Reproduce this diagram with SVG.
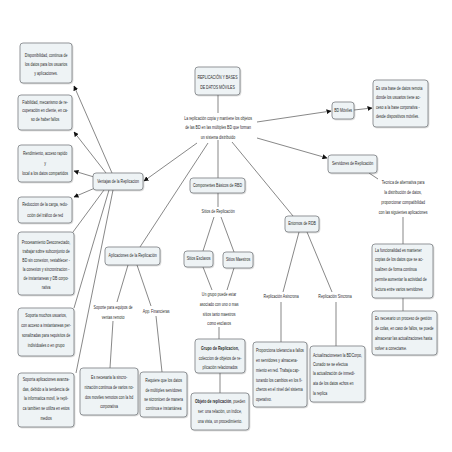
<svg xmlns="http://www.w3.org/2000/svg" width="452" height="452" viewBox="0 0 452 452">
<style>
.bg{fill:#ffffff}
.box rect{fill:#eef3f5;stroke:#6a6f72;stroke-width:0.7}
text{font-family:"Liberation Sans",Arial,sans-serif;font-size:5.1px;fill:#2a2a2a;transform-box:fill-box;transform-origin:50% 50%;transform:scaleX(0.7)}
.m{text-anchor:middle}
.s{text-anchor:start;transform-origin:0% 50%}
.b{font-weight:bold}
#connectors line{stroke:#555;stroke-width:0.7;fill:none}
#connectors line.a{marker-end:url(#arr)}
</style>
<defs>
<marker id="arr" markerWidth="5" markerHeight="5" refX="4.5" refY="2.5" orient="auto" markerUnits="userSpaceOnUse">
<path d="M0,0 L5,2.5 L0,5 z" fill="#111"/>
</marker>
<filter id="sh" x="-10%" y="-10%" width="130%" height="130%">
<feDropShadow dx="0.7" dy="0.7" stdDeviation="0.5" flood-color="#000" flood-opacity="0.22"/>
</filter>
</defs>
<rect class="bg" x="0" y="0" width="452" height="452"/>

<g id="connectors">
<line x1="218" y1="95" x2="218" y2="113"/>
<line class="a" x1="257" y1="122" x2="331" y2="111"/>
<line class="a" x1="354" y1="110" x2="372" y2="108"/>
<line class="a" x1="257" y1="138" x2="327" y2="158"/>
<line x1="369" y1="173" x2="378" y2="179"/>
<line x1="403" y1="217" x2="403" y2="244"/>
<line x1="403" y1="298" x2="403" y2="311"/>
<line x1="218" y1="140" x2="218" y2="178"/>
<line x1="218" y1="193" x2="218" y2="207"/>
<line x1="214" y1="217" x2="203" y2="251"/>
<line x1="221" y1="217" x2="234" y2="252"/>
<line x1="203" y1="267" x2="212" y2="290"/>
<line x1="234" y1="268" x2="227" y2="290"/>
<line x1="219" y1="327" x2="219" y2="339"/>
<line x1="220" y1="373" x2="220" y2="393"/>
<line x1="232" y1="142" x2="293" y2="216"/>
<line x1="299" y1="232" x2="283" y2="292"/>
<line x1="307" y1="232" x2="332" y2="292"/>
<line x1="281" y1="302" x2="281" y2="342"/>
<line x1="336" y1="302" x2="336" y2="346"/>
<line x1="208" y1="143" x2="140" y2="247"/>
<line x1="128" y1="265" x2="117" y2="302"/>
<line x1="137" y1="265" x2="151" y2="306"/>
<line x1="113" y1="321" x2="110" y2="368"/>
<line x1="156" y1="316" x2="162" y2="372"/>
<line class="a" x1="197" y1="143" x2="144" y2="181"/>
<line class="a" x1="112" y1="173" x2="74" y2="86"/>
<line class="a" x1="106" y1="173" x2="74" y2="132"/>
<line class="a" x1="94" y1="177" x2="74" y2="171"/>
<line class="a" x1="95" y1="188" x2="74" y2="197"/>
<line x1="104" y1="190" x2="73" y2="232"/>
<line x1="109" y1="190" x2="74" y2="308"/>
<line x1="113" y1="190" x2="76" y2="373"/>
</g>

<g id="n-title" class="box"><rect x="195" y="67" width="45" height="28" rx="3" filter="url(#sh)"/>
<text class="m" x="217.5" y="79.5">REPLICACIÓN Y BASES</text><text class="m" x="217.5" y="89.5">DE DATOS MÓVILES</text></g>

<g id="n-center"><text class="m" x="218" y="120">La replicación copia y mantiene los objetos</text>
<text class="m" x="218" y="129.5">de las BD en las múltiples BD que forman</text>
<text class="m" x="218" y="139">un sistema distribuido</text></g>

<g id="n-bdm" class="box"><rect x="332" y="102" width="22" height="17" rx="3" filter="url(#sh)"/>
<text class="m" x="343" y="112.5">BD Móviles</text></g>

<g id="n-esuna" class="box"><rect x="373" y="80" width="55" height="47" rx="3" filter="url(#sh)"/>
<text class="s" x="376" y="90">Es una base de datos remota</text>
<text class="s" x="376" y="99.5">donde los usuarios tiene ac-</text>
<text class="s" x="376" y="109">ceso a la base corporativa -</text>
<text class="s" x="376" y="118.5">desde dispositivos móviles.</text></g>

<g id="n-serv" class="box"><rect x="328" y="155" width="49" height="18" rx="3" filter="url(#sh)"/>
<text class="m" x="352.5" y="165.5">Servidores de Replicación</text></g>

<g id="n-tecnica"><text class="m" x="403" y="184">Tecnica de alternativa para</text>
<text class="m" x="403" y="194">la distribución de datos,</text>
<text class="m" x="403" y="204">proporcionar compatibilidad</text>
<text class="m" x="403" y="214">con las siguientes aplicaciones</text></g>

<g id="n-func" class="box"><rect x="372" y="244" width="61" height="54" rx="3" filter="url(#sh)"/>
<text class="s" x="375" y="252">La funcionalidad es mantener</text>
<text class="s" x="375" y="261.5">copias de los datos que se ac-</text>
<text class="s" x="375" y="271">tualizen de forma continua</text>
<text class="s" x="375" y="281">permite aumentar la actividad de</text>
<text class="s" x="375" y="291">lectura entre varios servidores</text></g>

<g id="n-colas" class="box"><rect x="372" y="311" width="65" height="44" rx="3" filter="url(#sh)"/>
<text class="s" x="375" y="320">Es necesario un proceso de gestión</text>
<text class="s" x="375" y="330">de colas, en caso de fallos, se puede</text>
<text class="s" x="375" y="340">almacenar las actualizaciones hasta</text>
<text class="s" x="375" y="350">volver a conectarse.</text></g>

<g id="n-comp" class="box"><rect x="190" y="178" width="55" height="15" rx="3" filter="url(#sh)"/>
<text class="m" x="217.5" y="187.5">Componentes Básicos de RBD</text></g>

<g id="n-sitios"><text class="m" x="218" y="213.5">Sitios de Replicación</text></g>

<g id="n-esclavos" class="box"><rect x="184" y="251" width="29" height="16" rx="3" filter="url(#sh)"/>
<text class="m" x="198.5" y="260.5">Sitios Esclavos</text></g>

<g id="n-maestros" class="box"><rect x="223" y="252" width="30" height="16" rx="3" filter="url(#sh)"/>
<text class="m" x="238" y="261.5">Sitios Maestros</text></g>

<g id="n-ungrupo"><text class="m" x="219" y="296">Un grupo puede estar</text>
<text class="m" x="219" y="306">asociado con uno o mas</text>
<text class="m" x="219" y="316">sitios tanto maestros</text>
<text class="m" x="219" y="325">como esclavos</text></g>

<g id="n-grupo" class="box"><rect x="195" y="339" width="50" height="34" rx="3" filter="url(#sh)"/>
<text class="m b" x="220" y="350">Grupo de Replicacion,</text>
<text class="m" x="220" y="360">coleccion de objetos de re-</text>
<text class="m" x="220" y="369">plicación relacionados</text></g>

<g id="n-objeto" class="box"><rect x="191" y="393" width="58" height="37" rx="3" filter="url(#sh)"/>
<text class="m" x="220" y="403"><tspan class="b">Objeto de replicación</tspan>, pueden</text>
<text class="m" x="220" y="413">ser: una relación, un índice,</text>
<text class="m" x="220" y="423">una vista, un procedimiento.</text></g>

<g id="n-entornos" class="box"><rect x="285" y="216" width="34" height="16" rx="3" filter="url(#sh)"/>
<text class="m" x="302" y="225.5">Entornos de RDB</text></g>

<g id="n-asinc"><text class="m" x="281" y="298.5">Replicación Asincrona</text></g>
<g id="n-sinc"><text class="m" x="335" y="298.5">Replicación Sincrona</text></g>

<g id="n-prop" class="box"><rect x="253" y="342" width="54" height="65" rx="3" filter="url(#sh)"/>
<text class="s" x="256" y="352">Proporciona tolerancia a fallos</text>
<text class="s" x="256" y="362">en servidores y  almacena-</text>
<text class="s" x="256" y="372">miento en red. Trabaja cap-</text>
<text class="s" x="256" y="382">turando los cambios en los fi-</text>
<text class="s" x="256" y="391">cheros en el nivel del sistema</text>
<text class="s" x="256" y="401">operativo.</text></g>

<g id="n-actual" class="box"><rect x="310" y="346" width="55" height="56" rx="3" filter="url(#sh)"/>
<text class="s" x="313" y="357">Actualizacionesen la BDCorpo,</text>
<text class="s" x="313" y="366">Cunado se se efectua</text>
<text class="s" x="313" y="375">la actualización de inmedi-</text>
<text class="s" x="313" y="385">ata de los datos echos en</text>
<text class="s" x="313" y="395">la replica</text></g>

<g id="n-aplic" class="box"><rect x="105" y="247" width="55" height="18" rx="3" filter="url(#sh)"/>
<text class="m" x="132.5" y="257.5">Aplicaciones de la Replicación</text></g>

<g id="n-soporte"><text class="m" x="113" y="309">Soporte para equipos de</text>
<text class="m" x="113" y="319">ventas remoto</text></g>

<g id="n-appfin"><text class="m" x="156" y="313">App. Financieras</text></g>

<g id="n-esnec" class="box"><rect x="80" y="368" width="58" height="47" rx="3" filter="url(#sh)"/>
<text class="m" x="109" y="379">Es necesaria la sincro-</text>
<text class="m" x="109" y="389">nización continua de varios no-</text>
<text class="m" x="109" y="399">dos moviles remotos con la bd</text>
<text class="m" x="109" y="408">corporativa</text></g>

<g id="n-requiere" class="box"><rect x="140" y="372" width="47" height="45" rx="3" filter="url(#sh)"/>
<text class="m" x="163.5" y="382">Requiere que los datos</text>
<text class="m" x="163.5" y="392">de múltiples servidores</text>
<text class="m" x="163.5" y="401">se sicronicen de manera</text>
<text class="m" x="163.5" y="410">continua e instantánea</text></g>

<g id="n-ventajas" class="box"><rect x="93" y="173" width="50" height="17" rx="3" filter="url(#sh)"/>
<text class="m" x="118" y="183">Ventajas de la Replicacion</text></g>

<g id="n-disp" class="box"><rect x="20" y="43" width="52" height="40" rx="3" filter="url(#sh)"/>
<text class="m" x="46" y="57">Disponibilidad, continua de</text>
<text class="m" x="46" y="66">los datos para los usuarios</text>
<text class="m" x="46" y="75">y aplicaciones.</text></g>

<g id="n-fiab" class="box"><rect x="18" y="95" width="54" height="35" rx="3" filter="url(#sh)"/>
<text class="m" x="45" y="104">Fiabilidad, mecanismo de re-</text>
<text class="m" x="45" y="112.5">cuperación en cliente, en ca-</text>
<text class="m" x="45" y="121">so de haber fallos</text></g>

<g id="n-rend" class="box"><rect x="18" y="145" width="54" height="37" rx="3" filter="url(#sh)"/>
<text class="m" x="45" y="155">Rendimiento, acceso rapido</text>
<text class="m" x="45" y="165">y</text>
<text class="m" x="45" y="175">local a los datos compartidos</text></g>

<g id="n-reduc" class="box"><rect x="18" y="197" width="54" height="26" rx="3" filter="url(#sh)"/>
<text class="m" x="45" y="206">Reduccion de la carga, redu-</text>
<text class="m" x="45" y="217">cción del tráfico de red</text></g>

<g id="n-proc" class="box"><rect x="18" y="232" width="56" height="63" rx="3" filter="url(#sh)"/>
<text class="m" x="46" y="244">Procesamiento Desconectado,</text>
<text class="m" x="46" y="253.5">trabajar sobre subconjunto de</text>
<text class="m" x="46" y="262.5">BD sin conexion, restablecer -</text>
<text class="m" x="46" y="271.5">la conexion y sincronizacion -</text>
<text class="m" x="46" y="280.5">de instantaneas y DB corpo-</text>
<text class="m" x="46" y="289.5">rativa</text></g>

<g id="n-muchos" class="box"><rect x="18" y="308" width="56" height="48" rx="3" filter="url(#sh)"/>
<text class="m" x="46" y="317">Soporta muchos usuarios,</text>
<text class="m" x="46" y="327">con acceso a instantaneas per-</text>
<text class="m" x="46" y="337">sonalizadas para requisitos de</text>
<text class="m" x="46" y="347">individuales o en grupo</text></g>

<g id="n-avanz" class="box"><rect x="18" y="373" width="56" height="54" rx="3" filter="url(#sh)"/>
<text class="m" x="46" y="381">Soporta aplicaciones avanza-</text>
<text class="m" x="46" y="391">das, debido a la tendencia de</text>
<text class="m" x="46" y="400">la informatica movil, le repli-</text>
<text class="m" x="46" y="410">ca tambien se utiliza en estos</text>
<text class="m" x="46" y="420">medios</text></g>
</svg>
